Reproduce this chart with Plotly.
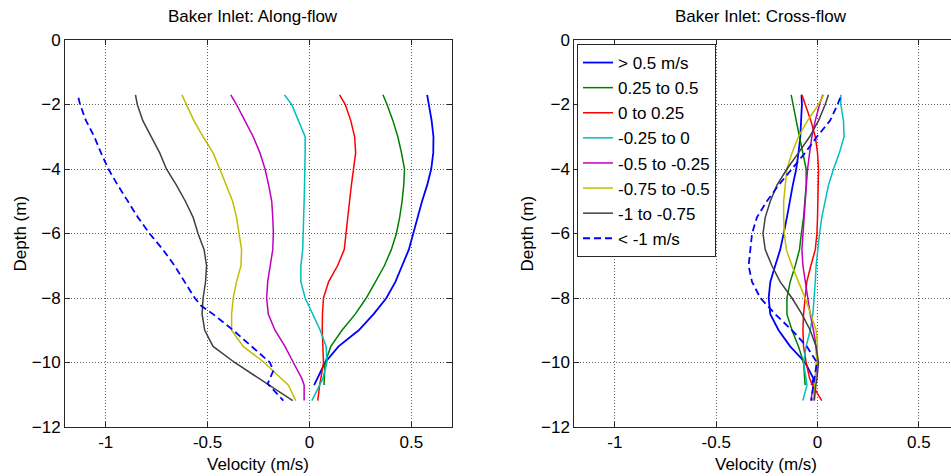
import plotly.graph_objects as go

# ---------------- data ----------------
series_names = ["> 0.5 m/s", "0.25 to 0.5", "0 to 0.25", "-0.25 to 0",
                "-0.5 to -0.25", "-0.75 to -0.5", "-1 to -0.75", "< -1 m/s"]
series_colors = ["#0000ff", "#008000", "#ff0000", "#00bfbf",
                 "#bf00bf", "#bfbf00", "#404040", "#0000ff"]

depth = [-1.7, -2, -2.5, -3, -3.5, -4, -4.5, -5, -5.5, -6, -6.5, -7, -7.5, -8,
         -8.5, -9, -9.5, -10, -10.5, -10.7, -11.18]
depth_dash = [-1.79, -2, -2.5, -3, -3.5, -4, -4.5, -5, -5.5, -6, -6.5, -7, -7.5,
              -8, -8.25, -8.5, -9, -9.5, -10, -10.25, -10.66, -11.18]

# Along-flow velocity (m/s)
along_gt05 = [0.578, 0.586, 0.600, 0.609, 0.608, 0.598, 0.578, 0.553, 0.531, 0.509, 0.488,
              0.455, 0.422, 0.378, 0.315, 0.242, 0.143, 0.077, 0.040, 0.023, None]
along_025_05 = [0.361, 0.381, 0.410, 0.434, 0.452, 0.467, 0.463, 0.455, 0.443, 0.427, 0.402,
                0.368, 0.324, 0.279, 0.225, 0.160, 0.105, 0.077, 0.073, 0.072, None]
along_0_025 = [0.148, 0.176, 0.203, 0.222, 0.227, 0.215, 0.206, 0.197, 0.189, 0.181, 0.171,
               0.138, 0.094, 0.069, 0.064, 0.063, 0.066, 0.069, 0.056, 0.050, 0.041]
along_m025_0 = [-0.123, -0.087, -0.054, -0.021, -0.021, -0.021, -0.024, -0.026, -0.028, -0.030,
                -0.033, -0.042, -0.042, -0.021, 0.017, 0.053, 0.082, 0.086, 0.066, 0.050, 0.012]
along_m05_m025 = [-0.386, -0.358, -0.317, -0.276, -0.243, -0.218, -0.200, -0.185, -0.180, -0.177,
                  -0.180, -0.194, -0.205, -0.210, -0.202, -0.169, -0.120, -0.079, -0.037, -0.026, -0.026]
along_m075_m05 = [-0.626, -0.604, -0.567, -0.522, -0.473, -0.440, -0.407, -0.377, -0.358, -0.345,
                  -0.333, -0.336, -0.358, -0.374, -0.382, -0.382, -0.325, -0.222, -0.136, -0.103, -0.067]
along_m1_m075 = [-0.854, -0.845, -0.818, -0.776, -0.735, -0.702, -0.653, -0.609, -0.571, -0.547,
                 -0.517, -0.505, -0.510, -0.522, -0.527, -0.514, -0.473, -0.367, -0.245, -0.197, -0.082]
along_ltm1 = [-1.134, -1.126, -1.097, -1.056, -1.023, -0.987, -0.941, -0.892, -0.842, -0.785, -0.719,
              -0.662, -0.612, -0.563, -0.530, -0.473, -0.374, -0.284, -0.194, -0.177, -0.205, -0.128]

# Cross-flow velocity (m/s)
cross_gt05 = [-0.079, -0.077, -0.081, -0.085, -0.094, -0.105, -0.122, -0.135, -0.151, -0.167, -0.184,
              -0.209, -0.233, -0.241, -0.233, -0.192, -0.135, -0.061, -0.020, -0.030, None]
cross_025_05 = [-0.130, -0.122, -0.105, -0.089, -0.072, -0.056, -0.056, -0.061, -0.069, -0.080, -0.089,
                -0.110, -0.135, -0.151, -0.151, -0.126, -0.094, -0.069, -0.061, -0.061, None]
cross_0_025 = [-0.077, -0.061, -0.033, -0.011, 0.000, 0.005, 0.004, 0.002, 0.000, -0.003, -0.011,
               -0.033, -0.053, -0.061, -0.069, -0.072, -0.069, -0.056, -0.039, -0.025, 0.021]
cross_m025_0 = [0.115, 0.115, 0.128, 0.131, 0.108, 0.079, 0.054, 0.038, 0.021, 0.010, 0.000,
                -0.007, -0.011, -0.016, -0.023, -0.036, -0.056, -0.069, -0.056, -0.052, -0.072]
cross_m05_m025 = [0.026, 0.010, -0.011, -0.028, -0.039, -0.049, -0.055, -0.061, -0.066, -0.072, -0.077,
                  -0.072, -0.061, -0.049, -0.036, -0.020, -0.007, -0.003, -0.011, -0.020, -0.033]
cross_m075_m05 = [0.030, 0.005, -0.049, -0.094, -0.126, -0.151, -0.159, -0.167, -0.167, -0.164, -0.154,
                  -0.126, -0.094, -0.061, -0.033, -0.007, 0.000, -0.007, -0.011, -0.015, -0.020]
cross_m1_m075 = [0.054, 0.038, 0.005, -0.039, -0.094, -0.151, -0.200, -0.233, -0.258, -0.269, -0.258,
                 -0.225, -0.184, -0.126, -0.077, -0.036, -0.007, 0.005, -0.003, -0.008, -0.016]
cross_ltm1 = [0.112, 0.099, 0.062, -0.003, -0.061, -0.126, -0.192, -0.250, -0.299, -0.323, -0.332,
              -0.340, -0.323, -0.282, -0.245, -0.209, -0.126, -0.053, -0.003, -0.010, -0.020, -0.030]

along = [along_gt05, along_025_05, along_0_025, along_m025_0,
         along_m05_m025, along_m075_m05, along_m1_m075, along_ltm1]
cross = [cross_gt05, cross_025_05, cross_0_025, cross_m025_0,
         cross_m05_m025, cross_m075_m05, cross_m1_m075, cross_ltm1]

x_ticks = [-1, -0.5, 0, 0.5]
x_ticktext = ["-1", "-0.5", "0", "0.5"]
y_ticks = [-12, -10, -8, -6, -4, -2, 0]

# ---------------- figure ----------------
W, H = 951, 476
ML, MR, MT, MB = 0, 0, 40, 49
FONT = "Liberation Sans, Arial, Helvetica, sans-serif"

fig = go.Figure()
for i, name in enumerate(series_names):
    d = depth_dash if i == 7 else depth
    dash = "7px,4px" if i == 7 else "solid"
    lw = 1.8 if i in (0, 7) else 1.5
    fig.add_trace(go.Scatter(x=along[i], y=d, mode="lines", name=name,
                             line=dict(color=series_colors[i], width=lw, dash=dash),
                             legendgroup=name, showlegend=False,
                             xaxis="x", yaxis="y"))
for i, name in enumerate(series_names):
    d = depth_dash if i == 7 else depth
    dash = "7px,4px" if i == 7 else "solid"
    lw = 1.8 if i in (0, 7) else 1.5
    fig.add_trace(go.Scatter(x=cross[i], y=d, mode="lines", name=name,
                             line=dict(color=series_colors[i], width=lw, dash=dash),
                             legendgroup=name, showlegend=True,
                             xaxis="x2", yaxis="y2"))

axis_common = dict(showline=True, linecolor="#262626", linewidth=1,
                   ticks="inside", ticklen=5, tickcolor="#262626",
                   showgrid=True, gridcolor="#606060", griddash="1px,2px", gridwidth=1,
                   zeroline=False, tickfont=dict(family=FONT, size=17, color="#000"))

left_d = [65 / W, 452 / W]
right_d = [574.3 / W, 1.0]
right_max = -1.2 + 1.9 * (951 - 574.3) / (959.4 - 574.3)

fig.update_layout(
    width=W, height=H,
    margin=dict(l=ML, r=MR, t=MT, b=MB),
    paper_bgcolor="white", plot_bgcolor="white",
    font=dict(family=FONT, size=17, color="#000"),
    xaxis=dict(domain=left_d, range=[-1.2, 0.7], tickvals=x_ticks, ticktext=x_ticktext,
               mirror="ticks", anchor="y", **axis_common),
    yaxis=dict(domain=[0, 1], range=[-12, 0], tickvals=y_ticks,
               mirror="ticks", anchor="x", **axis_common),
    xaxis2=dict(domain=right_d, range=[-1.2, right_max], tickvals=x_ticks, ticktext=x_ticktext,
                mirror="ticks", anchor="y2", **axis_common),
    yaxis2=dict(domain=[0, 1], range=[-12, 0], tickvals=y_ticks,
                mirror=False, anchor="x2", **axis_common),
    legend=dict(x=577 / W, y=1 - 4 / (H - MT - MB), xanchor="left", yanchor="top",
                xref="paper", yref="paper",
                bgcolor="white", bordercolor="#262626", borderwidth=1,
                font=dict(family=FONT, size=17, color="#000"),
                itemwidth=30, tracegroupgap=0, traceorder="grouped"),
    showlegend=True,
)

ph = H - MT - MB
ann = [
    dict(text="Baker Inlet: Along-flow", x=253 / W, y=(H - MB - 17) / ph, xref="paper", yref="paper",
         showarrow=False, xanchor="center", yanchor="middle", font=dict(size=17)),
    dict(text="Baker Inlet: Cross-flow", x=761 / W, y=(H - MB - 17) / ph, xref="paper", yref="paper",
         showarrow=False, xanchor="center", yanchor="middle", font=dict(size=17)),
    dict(text="Velocity (m/s)", x=258 / W, y=(H - MB - 464) / ph, xref="paper", yref="paper",
         showarrow=False, xanchor="center", yanchor="middle", font=dict(size=17)),
    dict(text="Velocity (m/s)", x=766 / W, y=(H - MB - 464) / ph, xref="paper", yref="paper",
         showarrow=False, xanchor="center", yanchor="middle", font=dict(size=17)),
    dict(text="Depth (m)", x=20 / W, y=0.5, xref="paper", yref="paper", textangle=-90,
         showarrow=False, xanchor="center", yanchor="middle", font=dict(size=17)),
    dict(text="Depth (m)", x=527 / W, y=0.5, xref="paper", yref="paper", textangle=-90,
         showarrow=False, xanchor="center", yanchor="middle", font=dict(size=17)),
]
fig.update_layout(annotations=ann)

fig.write_html("out.html")
